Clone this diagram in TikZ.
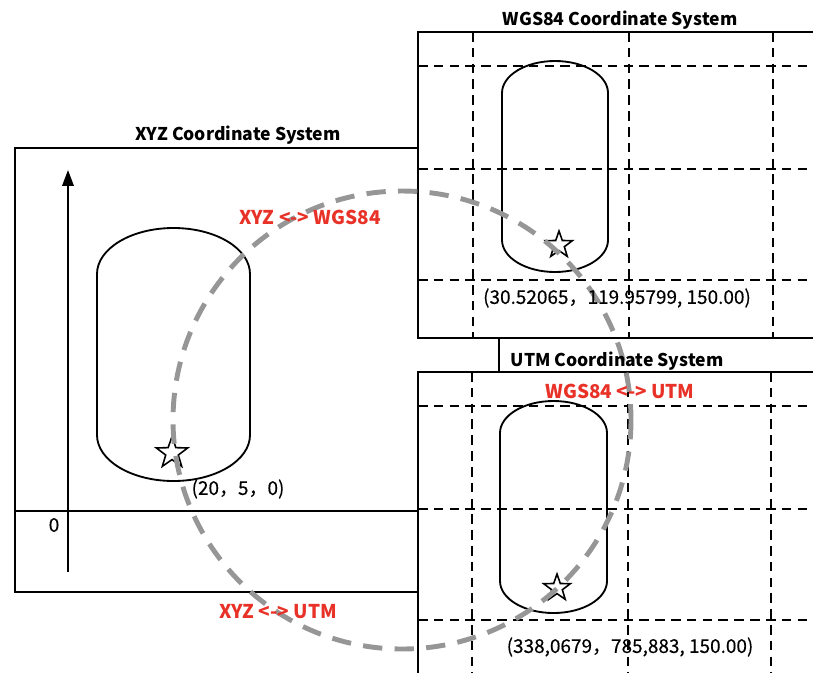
\documentclass[tikz,border=0pt]{standalone}
\usepackage{fontspec}
\setmainfont{Noto Sans CJK SC}
\newfontfamily\labelfont{Noto Sans CJK SC}[FakeBold=0.3]
\usetikzlibrary{positioning, arrows.meta, shapes.geometric}
\definecolor{convred}{RGB}{232,50,40}
\definecolor{ringgray}{RGB}{150,150,150}

\begin{document}
\begin{tikzpicture}[x=0.02cm, y=-0.02cm, font=\labelfont\fontsize{10.8}{13}\selectfont, line width=1.05pt]
    \tikzset{
      grid/.style={dash pattern=on 5.5pt off 3.5pt, line width=1pt},
      title/.style={font=\fontsize{10}{12}\selectfont\bfseries},
      conv/.style={text=convred, font=\fontsize{10.8}{13}\selectfont\bfseries},
      ring/.style={draw=ringgray, line width=2.8pt, dash pattern=on 11pt off 7pt},
      pt/.style={star, star points=5, star point ratio=2.5, draw, line width=0.9pt, minimum size=0.56cm, inner sep=0pt},
    }
    \useasboundingbox (0,0) rectangle (813,673);
    % XYZ frame
    \draw (418,148) -- (15,148) -- (15,592) -- (418,592);
    \draw (15,511) -- (418,511);
    \coordinate (o) at (68,572);
    \coordinate (top) at (68,170);
    \draw[-{Triangle[length=9pt, width=6.5pt]}] (o) -- (top);
    \draw (97,274) -- (97,435) arc[start angle=180, end angle=0, x radius=76.5, y radius=46]
      -- (250,274) arc[start angle=0, end angle=-180, x radius=76.5, y radius=46] -- cycle;
    % WGS84 frame
    \draw (813,32) -- (418,32) -- (418,338) -- (813,338);
    \foreach \gx in {473,629,773} \draw[grid] (\gx,32) -- (\gx,338);
    \foreach \gy in {66,169,280} \draw[grid] (418,\gy) -- (813,\gy);
    \draw (502,93) -- (502,240) arc[start angle=180, end angle=0, x radius=53, y radius=32]
      -- (608,93) arc[start angle=0, end angle=-180, x radius=53, y radius=32] -- cycle;
    \draw (499,338) -- (499,372);
    % UTM frame
    \draw (813,372) -- (418,372) -- (418,673);
    \foreach \gx in {472,628,771} \draw[grid] (\gx,372) -- (\gx,673);
    \foreach \gy in {406,509,620} \draw[grid] (418,\gy) -- (813,\gy);
    \draw (500,433) -- (500,581) arc[start angle=180, end angle=0, x radius=53.5, y radius=32]
      -- (607,433) arc[start angle=0, end angle=-180, x radius=53.5, y radius=32] -- cycle;
    % points
    \node[pt, minimum size=0.66cm] (pxyz) at (172,453) {};
    \node[pt] (pwgs) at (559,245) {};
    \node[pt] (putm) at (557,588) {};
    % transform ring
    \draw[ring] (402,420) circle[radius=229];
    % texts
    \node[title] (txyz) at (238,135) {XYZ Coordinate System};
    \node[title] (twgs) at (620,20) {WGS84 Coordinate System};
    \node[title] (tutm) at (617,361) {UTM Coordinate System};
    \node (zero) at (54,525) {0};
    \node (cxyz) at (238,489) {(20，5，0)};
    \node (cwgs) at (617,298) {(30.52065，119.95799, 150.00)};
    \node (cutm) at (630,647) {(338,0679，785,883, 150.00)};
    \node[conv] (xw) at (310,217) {XYZ <-> WGS84};
    \node[conv] (wu) at (620,391) {WGS84 <-> UTM};
    \node[conv] (xu) at (278,612) {XYZ <-> UTM};
\end{tikzpicture}
\end{document}
